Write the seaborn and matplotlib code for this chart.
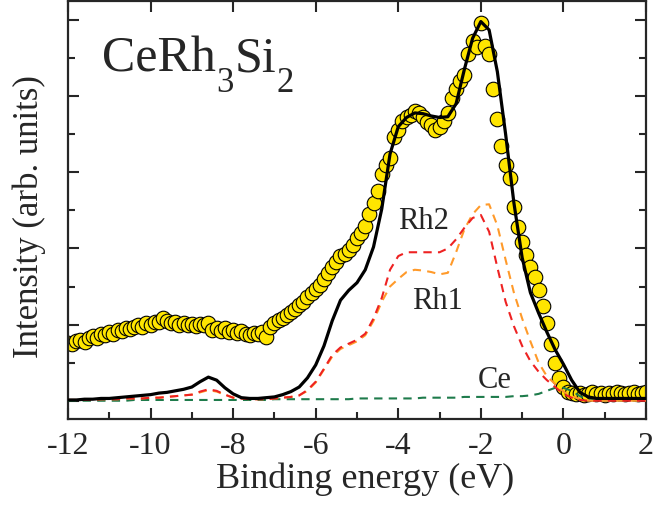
import numpy as np
import pandas as pd
import seaborn as sns
import matplotlib
matplotlib.use("Agg")
import matplotlib.pyplot as plt
from matplotlib.ticker import MultipleLocator

# ---------------- data ----------------
exp_x = [round(-12.0 + 0.1 * i, 1) for i in range(141)]
exp_y = [0.76, 0.74, 0.78, 0.80, 0.77, 0.82, 0.85, 0.83, 0.87, 0.86,
         0.90, 0.88, 0.93, 0.91, 0.96, 0.94, 0.97, 1.00, 0.97, 1.02,
         1.00, 1.04, 1.03, 1.09, 1.05, 1.02, 1.04, 1.00, 1.02, 0.99,
         1.01, 0.98, 1.01, 0.99, 1.02, 0.93, 0.96, 0.92, 0.95, 0.90,
         0.93, 0.89, 0.91, 0.88, 0.86, 0.89, 0.87, 0.90, 0.84, 0.97,
         1.02, 1.06, 1.08, 1.12, 1.16, 1.20, 1.26, 1.30, 1.36, 1.42,
         1.47, 1.52, 1.60, 1.68, 1.76, 1.82, 1.90, 1.93, 1.98, 2.05,
         2.14, 2.20, 2.30, 2.45, 2.60, 2.75, 2.98, 3.10, 3.19, 3.47,
         3.55, 3.67, 3.72, 3.75, 3.80, 3.78, 3.72, 3.66, 3.62, 3.56,
         3.60, 3.68, 3.78, 3.98, 4.10, 4.20, 4.28, 4.55, 4.72, 4.65,
         4.96, 4.66, 4.55, 4.10, 3.70, 3.35, 3.10, 2.92, 2.55, 2.28,
         2.08, 1.92, 1.75, 1.62, 1.45, 1.25, 1.02, 0.75, 0.50, 0.30,
         0.18, 0.12, 0.10, 0.09, 0.10, 0.08, 0.09, 0.11, 0.09, 0.10,
         0.08, 0.10, 0.09, 0.11, 0.10, 0.09, 0.10, 0.11, 0.09, 0.10,
         0.11]

line_x = [round(-12.0 + 0.2 * i, 1) for i in range(71)]
total = [0.01, 0.01, 0.02, 0.02, 0.03, 0.03, 0.04, 0.05, 0.06, 0.07,
         0.08, 0.10, 0.11, 0.13, 0.15, 0.18, 0.25, 0.31, 0.27, 0.17,
         0.09, 0.04, 0.03, 0.03, 0.04, 0.05, 0.08, 0.12, 0.18, 0.30,
         0.47, 0.72, 1.05, 1.32, 1.45, 1.55, 1.72, 2.02, 2.52, 3.24,
         3.60, 3.72, 3.78, 3.77, 3.74, 3.72, 3.73, 3.90, 4.35, 4.76,
         4.98, 4.87, 4.32, 3.50, 2.60, 1.88, 1.42, 1.15, 0.90, 0.67,
         0.48, 0.27, 0.11, 0.05, 0.03, 0.03, 0.03, 0.03, 0.03, 0.03,
         0.03]
rh2 = [0.01, 0.01, 0.01, 0.01, 0.02, 0.02, 0.02, 0.03, 0.03, 0.03,
       0.04, 0.04, 0.05, 0.06, 0.07, 0.08, 0.12, 0.15, 0.13, 0.08,
       0.04, 0.03, 0.02, 0.02, 0.02, 0.03, 0.04, 0.05, 0.07, 0.14,
       0.25, 0.42, 0.60, 0.70, 0.75, 0.80, 0.88, 1.08, 1.35, 1.72,
       1.90, 1.95, 1.95, 1.95, 1.95, 1.95, 2.00, 2.12, 2.27, 2.40,
       2.44, 2.22, 1.75, 1.30, 0.98, 0.72, 0.52, 0.38, 0.27, 0.18,
       0.09, 0.04, 0.01, 0.00, 0.00, 0.00, 0.00, 0.00, 0.00, 0.00,
       0.00]
rh1 = [0.01, 0.01, 0.01, 0.01, 0.02, 0.02, 0.02, 0.03, 0.03, 0.03,
       0.04, 0.04, 0.05, 0.06, 0.07, 0.08, 0.11, 0.14, 0.12, 0.08,
       0.04, 0.03, 0.02, 0.02, 0.02, 0.03, 0.04, 0.05, 0.07, 0.13,
       0.24, 0.41, 0.58, 0.68, 0.73, 0.78, 0.86, 1.05, 1.30, 1.50,
       1.60, 1.69, 1.72, 1.71, 1.69, 1.66, 1.68, 1.95, 2.25, 2.45,
       2.57, 2.58, 2.30, 1.85, 1.42, 1.08, 0.78, 0.50, 0.32, 0.22,
       0.12, 0.06, 0.02, 0.00, 0.00, 0.00, 0.00, 0.00, 0.00, 0.00,
       0.00]
ce = [0.00, 0.00, 0.00, 0.00, 0.00, 0.00, 0.00, 0.00, 0.01, 0.01,
      0.01, 0.01, 0.01, 0.01, 0.01, 0.01, 0.01, 0.01, 0.01, 0.01,
      0.01, 0.01, 0.01, 0.01, 0.01, 0.02, 0.02, 0.02, 0.02, 0.02,
      0.02, 0.02, 0.02, 0.02, 0.02, 0.03, 0.03, 0.03, 0.03, 0.03,
      0.03, 0.03, 0.03, 0.04, 0.04, 0.04, 0.04, 0.04, 0.05, 0.05,
      0.05, 0.05, 0.05, 0.05, 0.06, 0.06, 0.07, 0.09, 0.13, 0.17,
      0.17, 0.13, 0.06, 0.02, 0.00, 0.00, 0.00, 0.00, 0.00, 0.00,
      0.00]

x_ticks = [-12, -10, -8, -6, -4, -2, 0, 2]
title_parts = [("CeRh", False), ("3", True), ("Si", False), ("2", True)]
labels = {"Rh2": (-3.40, 2.36), "Rh1": (-3.04, 1.30), "Ce": (-1.66, 0.27)}

# ---------------- style ----------------
sns.set_style("ticks")
plt.rcParams["font.family"] = ["Liberation Serif", "DejaVu Serif"]
plt.rcParams["axes.unicode_minus"] = False

W, H = 654, 508
fig = plt.figure(figsize=(W / 100, H / 100), dpi=100)
ax = fig.add_axes([68 / W, 1 - 419 / H, 578 / W, 418 / H])

exp_df = pd.DataFrame({"E": exp_x, "I": exp_y})
sns.scatterplot(data=exp_df, x="E", y="I", ax=ax, s=110, color="#ffe500",
                edgecolor="black", linewidth=0.8, zorder=2, legend=False)

lines_df = pd.DataFrame({"E": line_x, "total": total, "rh2": rh2,
                         "rh1": rh1, "ce": ce})
sns.lineplot(data=lines_df, x="E", y="ce", ax=ax, color="#1e7b4b",
             linewidth=1.5, linestyle=(0, (4, 3)), zorder=3)
sns.lineplot(data=lines_df, x="E", y="rh1", ax=ax, color="#ff9a2a",
             linewidth=1.5, linestyle=(0, (4, 3)), zorder=3)
sns.lineplot(data=lines_df, x="E", y="rh2", ax=ax, color="#ee2222",
             linewidth=1.5, linestyle=(0, (4, 3)), zorder=3)
sns.lineplot(data=lines_df, x="E", y="total", ax=ax, color="black",
             linewidth=2.3, zorder=4)

ax.set_xlim(-12, 2)
ax.set_ylim(-0.24, 5.25)
ax.set_xticks(x_ticks)
ax.set_xticklabels([str(t) for t in x_ticks])
ax.xaxis.set_minor_locator(MultipleLocator(1))
ax.yaxis.set_major_locator(MultipleLocator(1))
ax.yaxis.set_minor_locator(MultipleLocator(0.5))
ax.set_yticklabels([])
ax.set_xlabel("")
ax.set_ylabel("")

for s in ax.spines.values():
    s.set_linewidth(1.6)
ax.tick_params(which="both", direction="in", top=True, right=True,
               width=1.5, labelsize=23, pad=9)
ax.tick_params(which="major", length=8)
ax.tick_params(which="minor", length=5, top=False)

fig.text(365 / W, 1 - 488 / H, "Binding energy (eV)", fontsize=26,
         ha="center", va="baseline")
fig.text(29 / W, 1 - 217 / H, "Intensity (arb. units)", fontsize=25,
         ha="center", va="center", rotation=90)

for t, (x, y) in labels.items():
    ax.text(x, y, t, fontsize=22, ha="center", va="center")

# title with real subscripts, placed piece by piece
fig.canvas.draw()
renderer = fig.canvas.get_renderer()
xpos = 102.0
for txt, sub in title_parts:
    base = 92 if sub else 71
    size = 25 if sub else 36
    t = fig.text(xpos / W, 1 - base / H, txt, fontsize=size,
                 ha="left", va="baseline")
    bb = t.get_window_extent(renderer=renderer)
    xpos = bb.x1 + (1 if sub else 0)

fig.savefig("out.png", dpi=100)
